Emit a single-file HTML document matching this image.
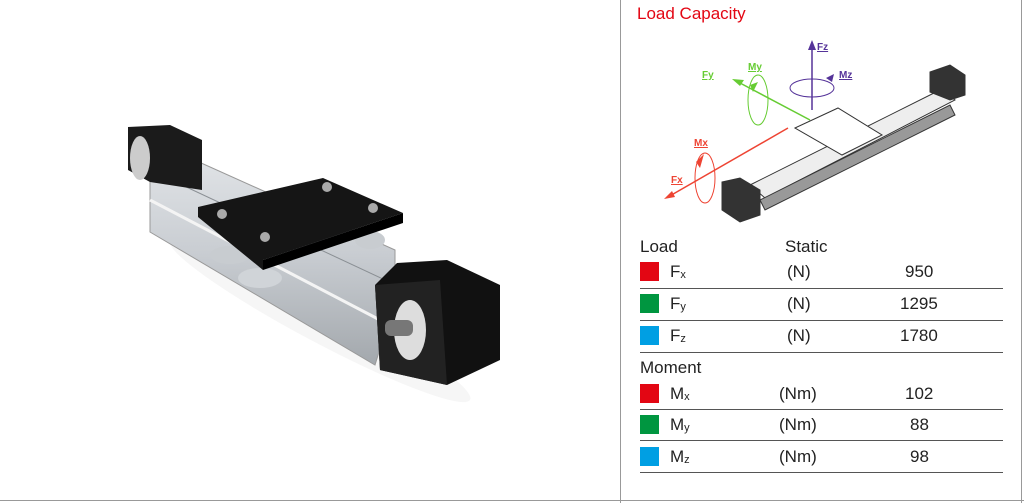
<!DOCTYPE html>
<html><head><meta charset="utf-8"><style>
body{margin:0;width:1024px;height:503px;background:#fff;position:relative;overflow:hidden;font-family:"Liberation Sans","DejaVu Sans",sans-serif;}
.t{position:absolute;font-size:17px;color:#222;}
.sq{position:absolute;width:19px;height:19px;left:640px;}
.ln{position:absolute;left:640px;width:363px;height:1px;background:#555;}
sub{font-size:11px;vertical-align:-1px;}
</style></head><body>
<div style="position:absolute;left:620px;top:0;width:1px;height:503px;background:#999"></div>
<div style="position:absolute;left:1021px;top:0;width:1px;height:503px;background:#999"></div>
<div style="position:absolute;left:0;top:500px;width:1024px;height:1px;background:#999"></div>

<svg width="620" height="500" style="position:absolute;left:0;top:0">
<defs><linearGradient id="al" x1="0" y1="0" x2="0" y2="1"><stop offset="0" stop-color="#e4e7ea"/><stop offset=".5" stop-color="#c9cdd2"/><stop offset="1" stop-color="#a3a8ad"/></linearGradient></defs>
<ellipse cx="320" cy="320" rx="170" ry="22" fill="#f6f6f6" transform="rotate(28 320 320)"/>
<polygon points="150,140 395,250 395,300 375,365 150,232" fill="url(#al)" stroke="#999"/>
<polyline points="150,170 385,280" stroke="#8a8f94" fill="none"/>
<polyline points="150,200 380,320" stroke="#f4f4f4" stroke-width="3" fill="none"/>
<polygon points="128,127 170,125 202,140 202,190 150,182 128,170" fill="#1b1b1b"/>
<ellipse cx="140" cy="158" rx="10" ry="22" fill="#ccc"/>
<ellipse cx="230" cy="255" rx="20" ry="9" fill="#c8ccd0"/>
<ellipse cx="260" cy="278" rx="22" ry="10" fill="#d0d4d8"/>
<ellipse cx="370" cy="240" rx="15" ry="9" fill="#c8ccd0"/>
<polygon points="198,207 323,178 403,213 263,260 263,270 198,217" fill="#151515"/>
<polygon points="263,260 403,213 403,223 263,270" fill="#000"/>
<circle cx="222" cy="214" r="5" fill="#aaa"/><circle cx="327" cy="187" r="5" fill="#aaa"/>
<circle cx="373" cy="208" r="5" fill="#aaa"/><circle cx="265" cy="237" r="5" fill="#aaa"/>
<polygon points="397,263 447,260 500,285 500,360 447,385 380,370 375,285" fill="#111"/>
<polygon points="375,285 440,280 447,385 380,370" fill="#222"/>
<ellipse cx="410" cy="330" rx="16" ry="30" fill="#ddd"/>
<rect x="385" y="320" width="28" height="16" rx="6" fill="#777"/>
</svg>

<div style="position:absolute;left:637px;top:4px;font-size:17px;color:#e30613">Load Capacity</div>
<svg width="400" height="230" style="position:absolute;left:620px;top:0">
<g stroke="#333" fill="#eee" stroke-width="1">
<polygon points="130,185 320,90 335,100 145,198"/>
<polygon points="140,200 330,105 335,115 145,210" fill="#999"/>
<polygon points="102,182 120,178 140,190 140,215 120,222 102,210" fill="#333"/>
<polygon points="310,72 330,65 345,75 345,95 330,100 310,92" fill="#333"/>
<polygon points="175,128 218,108 262,135 222,155" fill="#fff"/>
</g>
<line x1="190" y1="120" x2="120" y2="83" stroke="#6c3" stroke-width="1.5"/>
<polygon points="112,79 124,80 120,86" fill="#6c3"/>
<ellipse cx="138" cy="100" rx="10" ry="25" fill="none" stroke="#6c3"/>
<polygon points="130,85 138,82 133,92" fill="#6c3"/>
<text x="82" y="78" font-size="10" font-weight="bold" fill="#6c3" text-decoration="underline">Fy</text>
<text x="128" y="70" font-size="10" font-weight="bold" fill="#6c3" text-decoration="underline">My</text>
<line x1="192" y1="110" x2="192" y2="48" stroke="#539" stroke-width="1.5"/>
<polygon points="192,40 188,50 196,50" fill="#539"/>
<ellipse cx="192" cy="88" rx="22" ry="9" fill="none" stroke="#539"/>
<polygon points="206,78 214,74 212,82" fill="#539"/>
<text x="197" y="50" font-size="10" font-weight="bold" fill="#539" text-decoration="underline">Fz</text>
<text x="219" y="78" font-size="10" font-weight="bold" fill="#539" text-decoration="underline">Mz</text>
<line x1="168" y1="128" x2="48" y2="197" stroke="#e43" stroke-width="1.5"/>
<polygon points="44,199 52,191 55,197" fill="#e43"/>
<ellipse cx="85" cy="178" rx="10" ry="25" fill="none" stroke="#e43"/>
<polygon points="76,162 84,154 80,168" fill="#e43"/>
<text x="74" y="146" font-size="10" font-weight="bold" fill="#e43" text-decoration="underline">Mx</text>
<text x="51" y="183" font-size="10" font-weight="bold" fill="#e43" text-decoration="underline">Fx</text>
</svg>

<div class="t" style="left:640px;top:237px">Load</div><div class="t" style="left:785px;top:237px">Static</div>
<div class="sq" style="top:262px;background:#e30613"></div><div class="t" style="left:670px;top:262px">F<sub>x</sub></div><div class="t" style="left:787px;top:262px">(N)</div><div class="t" style="left:905px;top:262px">950</div>
<div class="ln" style="top:288px"></div>
<div class="sq" style="top:294px;background:#009640"></div><div class="t" style="left:670px;top:294px">F<sub>y</sub></div><div class="t" style="left:787px;top:294px">(N)</div><div class="t" style="left:900px;top:294px">1295</div>
<div class="ln" style="top:320px"></div>
<div class="sq" style="top:326px;background:#009fe3"></div><div class="t" style="left:670px;top:326px">F<sub>z</sub></div><div class="t" style="left:787px;top:326px">(N)</div><div class="t" style="left:900px;top:326px">1780</div>
<div class="ln" style="top:352px"></div>
<div class="t" style="left:640px;top:358px">Moment</div>
<div class="sq" style="top:384px;background:#e30613"></div><div class="t" style="left:670px;top:384px">M<sub>x</sub></div><div class="t" style="left:779px;top:384px">(Nm)</div><div class="t" style="left:905px;top:384px">102</div>
<div class="ln" style="top:409px"></div>
<div class="sq" style="top:415px;background:#009640"></div><div class="t" style="left:670px;top:415px">M<sub>y</sub></div><div class="t" style="left:779px;top:415px">(Nm)</div><div class="t" style="left:910px;top:415px">88</div>
<div class="ln" style="top:440px"></div>
<div class="sq" style="top:447px;background:#009fe3"></div><div class="t" style="left:670px;top:447px">M<sub>z</sub></div><div class="t" style="left:779px;top:447px">(Nm)</div><div class="t" style="left:910px;top:447px">98</div>
<div class="ln" style="top:472px"></div>
</body></html>
